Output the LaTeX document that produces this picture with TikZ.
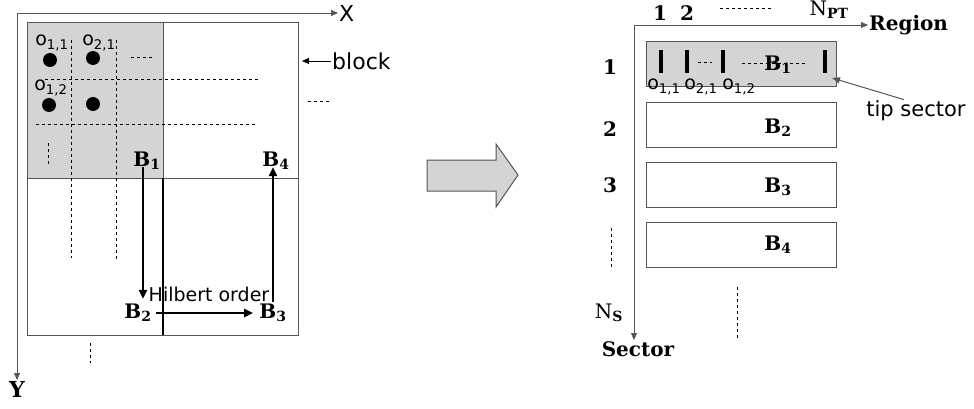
\documentclass[tikz,border=0pt]{standalone}
\usepackage{fontspec}
\setmainfont{DejaVu Serif}
\setsansfont{DejaVu Sans}
\usetikzlibrary{arrows.meta}
\definecolor{cellgray}{RGB}{212,212,212}
\definecolor{edgegray}{RGB}{85,85,85}
\newcommand{\olab}[1]{o\textsubscript{#1}}

\begin{document}
\begin{tikzpicture}[x=1pt,y=-1pt,
  axis/.style={draw=edgegray,-{Triangle[length=7pt,width=6pt]}},
  blk/.style={draw=edgegray,line width=0.9pt},
  dsh/.style={line width=0.8pt,dash pattern=on 3pt off 3pt},
  hilb/.style={line width=2.4pt,-{Triangle[length=9pt,width=8pt]}},
  bold/.style={font=\fontsize{20}{22}\selectfont\bfseries,inner sep=1pt},
  sans/.style={font=\fontsize{22}{24}\sffamily,inner sep=1pt},
  osub/.style={font=\fontsize{19}{21}\sffamily,inner sep=0pt},
  sectbox/.style={blk,minimum width=190pt,minimum height=45pt,inner sep=0pt}]
\useasboundingbox (0,0) rectangle (974,409);

% left: blocks in X-Y space
\coordinate (xy) at (17,13);
\coordinate (xend) at (338,13);
\coordinate (yend) at (17,380);
\draw[axis] (xy) -- (xend);
\draw[axis] (xy) -- (yend);
\node[sans,anchor=west] (xlab) at (xend) {X};
\node[bold,font=\fontsize{22}{24}\selectfont\bfseries,below] (ylab) at (yend) {Y};

\draw[blk,fill=cellgray] (27,22) rectangle (163,178);
\draw[blk] (163,22) rectangle (298,178);
\draw[blk] (27,178) rectangle (298,335);
\draw[line width=1.4pt] (163,178) -- (163,335);

\draw[dsh] (71,40) -- (71,258);
\draw[dsh] (116,40) -- (116,260);
\draw[dsh] (45,79) -- (258,79);
\draw[dsh] (36,124) -- (255,124);
\draw[dsh] (131,57) -- (153,57);
\draw[dsh] (48,143) -- (48,164);
\draw[dsh] (308,101) -- (330,101);
\draw[dsh] (90,343) -- (90,363);

\foreach \px/\py in {50/60,93/58,49/105,93/104}
  \fill (\px,\py) circle (7pt);
\node[osub] (o11) at (52,43) {\olab{1,1}};
\node[osub] (o21) at (99,43) {\olab{2,1}};
\node[osub] (o12) at (51,88) {\olab{1,2}};

\node[sans,anchor=west] (blocklab) at (331,61) {block};
\draw[-{Triangle[length=7pt,width=6pt]},line width=0.9pt] (blocklab.west) -- ++(-29,0);

\node[bold] (lb1) at (147,161) {B\textsubscript{1}};
\node[bold] (lb4) at (276,161) {B\textsubscript{4}};
\node[bold] (lb2) at (138,313) {B\textsubscript{2}};
\node[bold] (lb3) at (273,313) {B\textsubscript{3}};
\draw[hilb,shorten <=-4pt,shorten >=4pt] ([xshift=-4pt]lb1.south) -- ([xshift=-4pt]lb1.south |- lb2.north);
\draw[hilb] ([xshift=3pt]lb2.east) -- ([xshift=-5pt]lb3.west);
\draw[hilb,shorten <=1pt,shorten >=-4pt] (lb3.north) -- (lb3.north |- lb4.south);
\node[sans,font=\fontsize{19}{21}\sffamily] (hlab) at (209,294) {Hilbert order};

% middle: block arrow
\draw[draw=edgegray,line width=1pt,fill=cellgray] (427,160) -- (496,160) -- (496,144) -- (518,175)
  -- (496,207) -- (496,191) -- (427,191) -- cycle;

% right: sectors on disk
\coordinate (rs) at (634,25);
\coordinate (rend) at (868,25);
\coordinate (send) at (634,340);
\draw[axis] (rs) -- (rend);
\draw[axis] (rs) -- (send);
\node[bold,anchor=west] (reglab) at (rend) {Region};
\node[bold,below] (seclab) at ([xshift=4pt]send) {Sector};

\node[bold] (c1) at (660,13) {1};
\node[bold] (c2) at (687,13) {2};
\draw[dsh] (720,8) -- (773,8);
\node[font=\fontsize{20}{22}\selectfont,inner sep=1pt] (npt) at (829,10) {N\textsubscript{\bfseries PT}};

\node[bold] (r1) at (610,67) {1};
\node[bold] (r2) at (610,129) {2};
\node[bold] (r3) at (610,185) {3};
\draw[dsh] (611,228) -- (611,270);
\node[font=\fontsize{20}{22}\selectfont,inner sep=1pt] (ns) at (609,313) {N\textsubscript{\bfseries S}};

\node[sectbox,fill=cellgray] (s1) at (741,64) {};
\node[sectbox] (s2) at (741,125) {};
\node[sectbox] (s3) at (741,185) {};
\node[sectbox] (s4) at (741,245) {};

\draw[dsh] (698,62) -- (712,62);
\draw[dsh] (742,63) -- (807,63);
\node[bold] (sb1) at (778,65) {B\textsubscript{1}};
\node[bold] (sb2) at (778,128) {B\textsubscript{2}};
\node[bold] (sb3) at (778,187) {B\textsubscript{3}};
\node[bold] (sb4) at (778,245) {B\textsubscript{4}};

\foreach \bx in {661,687,723,825}
  \draw[line width=3.5pt] (\bx,50) -- (\bx,73);
\node[osub] (so11) at (664,87) {\olab{1,1}};
\node[osub] (so21) at (701,87) {\olab{2,1}};
\node[osub] (so12) at (739,87) {\olab{1,2}};

\node[sans,font=\fontsize{21}{23}\sffamily] (tiplab) at (916,111) {tip sector};
\draw[edgegray,line width=1pt,-{Triangle[length=8pt,width=6pt]}] ([xshift=-12pt]tiplab.north) -- (832,78);

\draw[dsh] (737,287) -- (737,340);
\end{tikzpicture}
\end{document}
